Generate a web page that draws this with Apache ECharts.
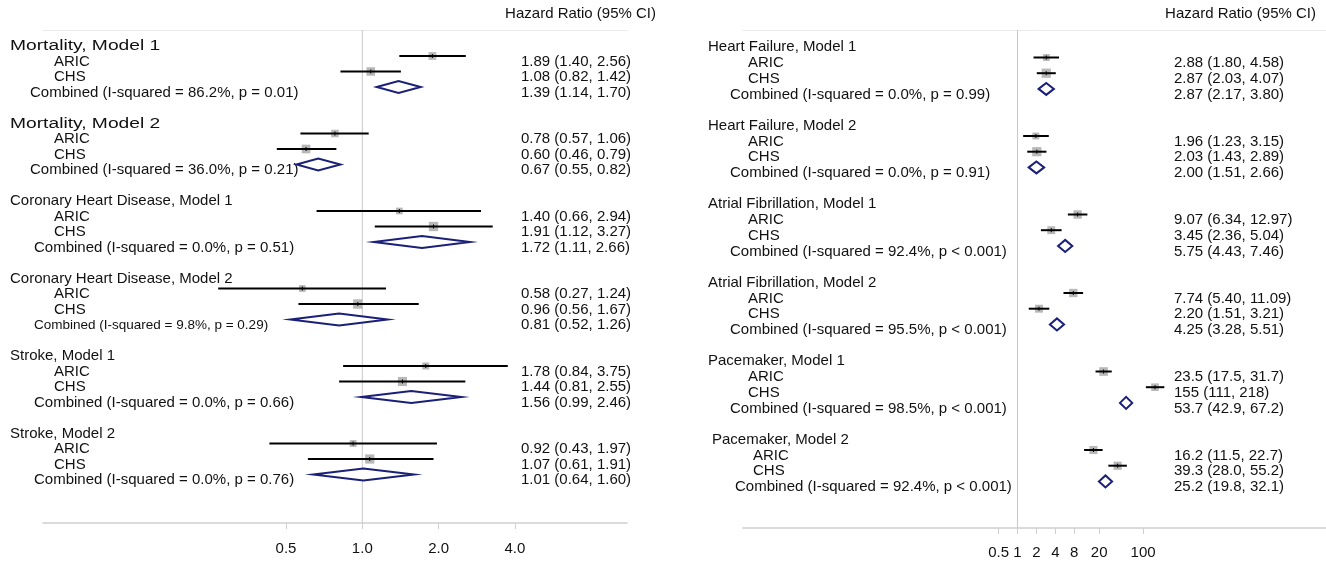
<!DOCTYPE html>
<html>
<head>
<meta charset="utf-8">
<script src="https://cdn.jsdelivr.net/npm/echarts@6/dist/echarts.min.js"></script>
<style>
  html, body { margin: 0; padding: 0; background: #fff; }
  #chart { width: 1326px; height: 561px; }
</style>
</head>
<body>
<div id="chart"></div>
<script>
// ---------------- DATA ----------------
const leftGroups = ['Mortality, Model 1', 'Mortality, Model 2', 'Coronary Heart Disease, Model 1', 'Coronary Heart Disease, Model 2', 'Stroke, Model 1', 'Stroke, Model 2'];
const leftARIC = [[1.89, 1.40, 2.56], [0.78, 0.57, 1.06], [1.40, 0.66, 2.94], [0.58, 0.27, 1.24], [1.78, 0.84, 3.75], [0.92, 0.43, 1.97]];
const leftCHS = [[1.08, 0.82, 1.42], [0.60, 0.46, 0.79], [1.91, 1.12, 3.27], [0.96, 0.56, 1.67], [1.44, 0.81, 2.55], [1.07, 0.61, 1.91]];
const leftCombined = [[1.39, 1.14, 1.70], [0.67, 0.55, 0.82], [1.72, 1.11, 2.66], [0.81, 0.52, 1.26], [1.56, 0.99, 2.46], [1.01, 0.64, 1.60]];
const leftI2 = ['86.2%', '36.0%', '0.0%', '9.8%', '0.0%', '0.0%'];
const leftP = ['p = 0.01', 'p = 0.21', 'p = 0.51', 'p = 0.29', 'p = 0.66', 'p = 0.76'];
const leftTicks = [0.5, 1, 2, 4];
const leftTickLabels = ['0.5', '1.0', '2.0', '4.0'];

const rightGroups = ['Heart Failure, Model 1', 'Heart Failure, Model 2', 'Atrial Fibrillation, Model 1', 'Atrial Fibrillation, Model 2', 'Pacemaker, Model 1', 'Pacemaker, Model 2'];
const rightARIC = [[2.88, 1.80, 4.58], [1.96, 1.23, 3.15], [9.07, 6.34, 12.97], [7.74, 5.40, 11.09], [23.5, 17.5, 31.7], [16.2, 11.5, 22.7]];
const rightCHS = [[2.87, 2.03, 4.07], [2.03, 1.43, 2.89], [3.45, 2.36, 5.04], [2.20, 1.51, 3.21], [155, 111, 218], [39.3, 28.0, 55.2]];
const rightCombined = [[2.87, 2.17, 3.80], [2.00, 1.51, 2.66], [5.75, 4.43, 7.46], [4.25, 3.28, 5.51], [53.7, 42.9, 67.2], [25.2, 19.8, 32.1]];
const rightI2 = ['0.0%', '0.0%', '92.4%', '95.5%', '98.5%', '92.4%'];
const rightP = ['p = 0.99', 'p = 0.91', 'p < 0.001', 'p < 0.001', 'p < 0.001', 'p < 0.001'];
const rightTicks = [0.5, 1, 2, 4, 8, 20, 100];
const rightTickLabels = ['0.5', '1', '2', '4', '8', '20', '100'];

const studyNames = ['ARIC', 'CHS'];
const columnTitle = 'Hazard Ratio (95% CI)';

// ---------------- LAYOUT / STYLE ----------------
const FONT_FAMILY = '"Liberation Sans", Arial, Helvetica, sans-serif';
const TEXT_COLOR = '#111';
const DIAMOND_COLOR = '#1a1f78';

const L = {
  grid: { left: 43, width: 584, top: 30, height: 493 },
  yMin: (30 - 40.5) / 15.5, yMax: (523 - 40.5) / 15.5,
  xMin: (43 - 362.3) / 76.3, xMax: (627 - 362.3) / 76.3,
  headerX: [10, 10, 10, 10, 10, 10],
  headerFont: [15.5, 15.5, 15, 15, 15, 15],
  headerScaleX: [1.24, 1.24, 1, 1, 1, 1],
  studyX: [54, 54, 54, 54, 54, 54],
  combX: [30, 30, 34, 34, 34, 34],
  combFont: [15, 15, 15, 13.5, 15, 15],
  valueX: 521, textDy: 5.5, labelMargin: 18
};
const R = {
  grid: { left: 743, right: 0, top: 30, height: 498 },
  yMin: (30 - 41.8) / 15.7, yMax: (528 - 41.8) / 15.7,
  xMin: (743 - 1017.5) / 18.9, xMax: (1326 - 1017.5) / 18.9,
  headerX: [708, 708, 708, 708, 708, 712],
  headerFont: [15, 15, 15, 15, 15, 15],
  headerScaleX: [1, 1, 1, 1, 1, 1],
  studyX: [748, 748, 748, 748, 748, 753],
  combX: [730, 730, 730, 730, 730, 735],
  combFont: [15, 15, 15, 15, 15, 15],
  valueX: 1174, textDy: 5.5, labelMargin: 17
};

function fmtNum(v, est) {
  const d = est >= 100 ? 0 : (est >= 10 ? 1 : 2);
  return v.toFixed(d);
}
function fmtCI(t) {
  return fmtNum(t[0], t[0]) + ' (' + fmtNum(t[1], t[0]) + ', ' + fmtNum(t[2], t[0]) + ')';
}

function buildItems(groups, aric, chs, comb, i2, p, lay) {
  const items = [{ kind: 'ref' }];
  groups.forEach((g, gi) => {
    const base = gi * 5;
    items.push({ kind: 'header', row: base, label: g, x: lay.headerX[gi],
      fontSize: lay.headerFont[gi], scaleX: lay.headerScaleX[gi] });
    // inverse-variance weights (%) from the CIs -> box area
    const se = [aric[gi], chs[gi]].map(t => (Math.log(t[2]) - Math.log(t[1])) / 3.92);
    const w = se.map(s => 1 / (s * s));
    const sw = w[0] + w[1];
    [aric[gi], chs[gi]].forEach((t, si) => {
      items.push({ kind: 'study', row: base + 1 + si, label: studyNames[si], x: lay.studyX[gi],
        est: t[0], lo: t[1], hi: t[2], weight: 100 * w[si] / sw, value: fmtCI(t) });
    });
    const c = comb[gi];
    items.push({ kind: 'combined', row: base + 3, label: 'Combined (I-squared = ' + i2[gi] + ', ' + p[gi] + ')',
      x: lay.combX[gi], fontSize: lay.combFont[gi], est: c[0], lo: c[1], hi: c[2], value: fmtCI(c) });
  });
  return items;
}

function textEl(str, x, y, size, scaleX) {
  const el = {
    type: 'text',
    style: {
      text: str, x: 0, y: 0, fill: TEXT_COLOR,
      font: size + 'px ' + FONT_FAMILY,
      textAlign: 'left', textVerticalAlign: 'middle',
      align: 'left', verticalAlign: 'middle'
    },
    x: x, y: y
  };
  if (scaleX && scaleX !== 1) el.scaleX = scaleX;
  return el;
}

function makeRender(items, lay) {
  return function (params, api) {
    const it = items[params.dataIndex];
    if (it.kind === 'ref') {
      const a = api.coord([0, lay.yMin]);
      const b = api.coord([0, lay.yMax]);
      return { type: 'line', shape: { x1: a[0], y1: a[1], x2: b[0], y2: b[1] },
        style: { stroke: '#c9c9c9', lineWidth: 1 } };
    }
    const y = api.coord([0, it.row])[1];
    const ty = y + lay.textDy;
    const children = [];
    children.push(textEl(it.label, it.x, ty, it.fontSize || 15, it.scaleX));
    if (it.kind === 'header') return { type: 'group', children };
    children.push(textEl(it.value, lay.valueX, ty, 15));
    const xl = api.coord([Math.log2(it.lo), it.row])[0];
    const xh = api.coord([Math.log2(it.hi), it.row])[0];
    const xe = api.coord([Math.log2(it.est), it.row])[0];
    if (it.kind === 'study') {
      const s = 1.15 * Math.sqrt(it.weight);
      children.push({ type: 'rect', shape: { x: xe - s / 2, y: y - s / 2, width: s, height: s },
        style: { fill: '#b8b8b8' } });
      children.push({ type: 'line', shape: { x1: xl, y1: y, x2: xh, y2: y },
        style: { stroke: '#000', lineWidth: 2 } });
      children.push({ type: 'line', shape: { x1: xe, y1: y - 2, x2: xe, y2: y + 2 },
        style: { stroke: '#000', lineWidth: 1 } });
    } else {
      const h = 6;
      children.push({ type: 'polygon', shape: { points: [[xl, y], [xe, y - h], [xh, y], [xe, y + h]] },
        style: { fill: '#fff', stroke: DIAMOND_COLOR, lineWidth: 2, lineJoin: 'miter' } });
    }
    return { type: 'group', children };
  };
}

const leftItems = buildItems(leftGroups, leftARIC, leftCHS, leftCombined, leftI2, leftP, L);
const rightItems = buildItems(rightGroups, rightARIC, rightCHS, rightCombined, rightI2, rightP, R);

function tickFormatter(ticks, labels) {
  return function (v) {
    for (let i = 0; i < ticks.length; i++) {
      if (Math.abs(Math.log2(ticks[i]) - v) < 1e-6) return labels[i];
    }
    return '';
  };
}

function bottomAxis(gridIndex, lay, ticks, labels) {
  const vals = ticks.map(t => Math.log2(t));
  return {
    gridIndex, type: 'value', position: 'bottom', min: lay.xMin, max: lay.xMax,
    axisLine: { show: true, onZero: false, lineStyle: { color: '#cfcfcf', width: 1.5 } },
    axisTick: { show: true, customValues: vals, length: 6, lineStyle: { color: '#cfcfcf', width: 1 } },
    axisLabel: { show: true, customValues: vals, formatter: tickFormatter(ticks, labels),
      fontSize: 15, color: TEXT_COLOR, fontFamily: FONT_FAMILY, margin: lay.labelMargin },
    splitLine: { show: false }
  };
}
function topAxis(gridIndex, lay) {
  return {
    gridIndex, type: 'value', position: 'top', min: lay.xMin, max: lay.xMax,
    axisLine: { show: true, onZero: false, lineStyle: { color: '#ebebeb', width: 1 } },
    axisTick: { show: false }, axisLabel: { show: false }, splitLine: { show: false }
  };
}
function hiddenY(gridIndex, lay) {
  return { gridIndex, type: 'value', inverse: true, min: lay.yMin, max: lay.yMax, show: false };
}

const chart = echarts.init(document.getElementById('chart'), null, { renderer: 'canvas' });
chart.setOption({
  animation: false,
  backgroundColor: '#fff',
  title: [
    { text: columnTitle, right: 1326 - 656, top: 6, padding: 0,
      textStyle: { fontSize: 15, fontWeight: 'normal', color: TEXT_COLOR, fontFamily: FONT_FAMILY } },
    { text: columnTitle, right: 10, top: 6, padding: 0,
      textStyle: { fontSize: 15, fontWeight: 'normal', color: TEXT_COLOR, fontFamily: FONT_FAMILY } }
  ],
  grid: [L.grid, R.grid],
  xAxis: [
    bottomAxis(0, L, leftTicks, leftTickLabels),
    topAxis(0, L),
    bottomAxis(1, R, rightTicks, rightTickLabels),
    topAxis(1, R)
  ],
  yAxis: [hiddenY(0, L), hiddenY(1, R)],
  series: [
    {
      type: 'custom', xAxisIndex: 0, yAxisIndex: 0, clip: false,
      renderItem: makeRender(leftItems, L),
      data: leftItems.map(it => [it.est ? Math.log2(it.est) : 0, it.row !== undefined ? it.row : 0]),
      encode: { x: 0, y: 1 }
    },
    {
      type: 'custom', xAxisIndex: 2, yAxisIndex: 1, clip: false,
      renderItem: makeRender(rightItems, R),
      data: rightItems.map(it => [it.est ? Math.log2(it.est) : 0, it.row !== undefined ? it.row : 0]),
      encode: { x: 0, y: 1 }
    }
  ]
});
</script>
</body>
</html>
